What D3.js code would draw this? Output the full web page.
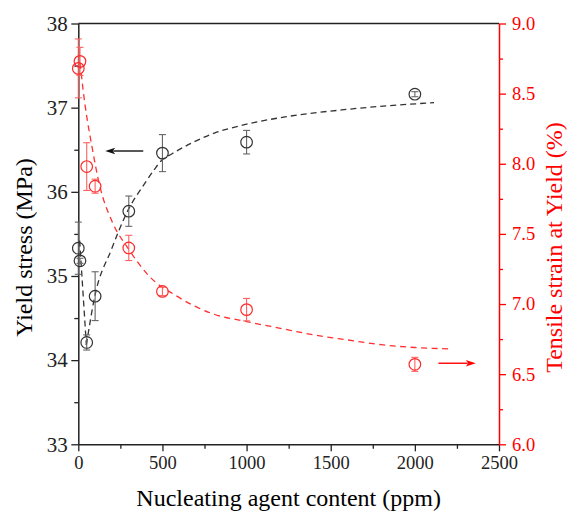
<!DOCTYPE html>
<html>
<head>
<meta charset="utf-8">
<script src="https://cdn.jsdelivr.net/npm/d3@7"></script>
<style>
  html, body { margin: 0; padding: 0; background: #fff; }
  svg { display: block; font-family: "Liberation Serif", "Times New Roman", serif; }
</style>
</head>
<body>
<svg id="chart" width="568" height="513"></svg>
<script>
// ---- data ----
const contents = [0, 10, 50, 100, 300, 500, 1000, 2000];            // ppm
const yieldStress = [35.33, 35.18, 34.21, 34.76, 35.77, 36.46, 36.59, 37.16]; // MPa
const yieldStressErr = [0.31, 0.03, 0.09, 0.29, 0.18, 0.22, 0.14, 0.03];
const strain = [8.68, 8.73, 7.98, 7.84, 7.40, 7.09, 6.96, 6.57];    // %
const strainErr = [0.21, 0.10, 0.17, 0.05, 0.09, 0.03, 0.08, 0.05];

// dashed guide curves
const stressFitDown = [[8, 35.42], [48, 34.18]];
const stressFitUp = [[48, 34.18], [97, 34.75], [196, 35.31], [295, 35.78], [395, 36.10],
  [450, 36.26], [493, 36.37], [555, 36.45], [674, 36.58], [812, 36.70], [971, 36.79],
  [1228, 36.89], [1600, 36.98], [2114, 37.06]];
const strainFit = [[10, 8.72], [40, 8.42], [80, 8.13], [128, 7.84], [200, 7.59], [300, 7.39],
  [420, 7.20], [580, 7.06], [800, 6.93], [1000, 6.875], [1200, 6.827], [1400, 6.78],
  [1600, 6.744], [1800, 6.71], [2000, 6.69], [2220, 6.68]];

const xTicks = [0, 500, 1000, 1500, 2000, 2500];
const xMinorTicks = [250, 750, 1250, 1750, 2250];
const yLeftTicks = [33, 34, 35, 36, 37, 38];
const yLeftMinorTicks = [33.5, 34.5, 35.5, 36.5, 37.5];
const yRightTicks = [6.0, 6.5, 7.0, 7.5, 8.0, 8.5, 9.0];
const yRightMinorTicks = [6.25, 6.75, 7.25, 7.75, 8.25, 8.75];

// arrows: [x1, y1, x2, y2] in data units (x ppm, y on the axis named)
const stressArrow = { axis: "left", from: [386, 36.485], to: [160, 36.485] };
const strainArrow = { axis: "right", from: [2140, 6.578], to: [2362, 6.578] };

const xTitle = "Nucleating agent content (ppm)";
const yLeftTitle = "Yield stress (MPa)";
const yRightTitle = "Tensile strain at Yield (%)";

// ---- drawing ----
const svg = d3.select("#chart");
const L = 78.3, R = 499, T = 23.5, B = 444.3;
const RED = "#ff0000";
const BLK = "#222";

const x = d3.scaleLinear().domain([0, 2500]).range([L, R]);
const yL = d3.scaleLinear().domain([33, 38]).range([B, T]);
const yR = d3.scaleLinear().domain([6, 9]).range([B, T]);

function styleAxis(g, color, size) {
  g.selectAll("path.domain").attr("stroke", color).attr("stroke-width", 1.5);
  g.selectAll(".tick line").attr("stroke", color).attr("stroke-width", 1.3);
  g.selectAll(".tick text").attr("fill", color).style("font-size", size + "px")
    .style("font-family", '"Liberation Serif", serif');
}

// top frame line
svg.append("line").attr("x1", L).attr("x2", R).attr("y1", T).attr("y2", T)
  .attr("stroke", BLK).attr("stroke-width", 1.6);

// bottom axis
const gxMinor = svg.append("g").attr("transform", `translate(0,${B})`)
  .call(d3.axisBottom(x).tickValues(xMinorTicks).tickSize(4.5).tickFormat(""));
gxMinor.select("path.domain").remove();
gxMinor.selectAll(".tick line").attr("stroke", BLK).attr("stroke-width", 1.3);
const gx = svg.append("g").attr("transform", `translate(0,${B})`)
  .call(d3.axisBottom(x).tickValues(xTicks).tickSize(7).tickSizeOuter(0).tickPadding(5).tickFormat(d3.format("d")));
styleAxis(gx, BLK, 18.5);

// left axis
const gyLMinor = svg.append("g").attr("transform", `translate(${L},0)`)
  .call(d3.axisLeft(yL).tickValues(yLeftMinorTicks).tickSize(4).tickFormat(""));
gyLMinor.select("path.domain").remove();
gyLMinor.selectAll(".tick line").attr("stroke", BLK).attr("stroke-width", 1.3);
const gyL = svg.append("g").attr("transform", `translate(${L},0)`)
  .call(d3.axisLeft(yL).tickValues(yLeftTicks).tickSize(7).tickSizeOuter(0).tickPadding(3.5).tickFormat(d3.format("d")));
styleAxis(gyL, BLK, 21);

// right axis
const gyRMinor = svg.append("g").attr("transform", `translate(${R},0)`)
  .call(d3.axisRight(yR).tickValues(yRightMinorTicks).tickSize(4).tickFormat(""));
gyRMinor.select("path.domain").remove();
gyRMinor.selectAll(".tick line").attr("stroke", RED).attr("stroke-width", 1.3);
const gyR = svg.append("g").attr("transform", `translate(${R},0)`)
  .call(d3.axisRight(yR).tickValues(yRightTicks).tickSize(7).tickSizeOuter(0).tickPadding(6).tickFormat(d3.format(".1f")));
styleAxis(gyR, RED, 18.5);

// titles
svg.append("text").attr("x", (L + R) / 2).attr("y", 506).attr("text-anchor", "middle")
  .style("font-size", "24px").attr("fill", "#000").text(xTitle);
svg.append("text").attr("transform", "translate(32,247.5) rotate(-90)").attr("text-anchor", "middle")
  .style("font-size", "24px").attr("fill", "#000").text(yLeftTitle);
svg.append("text").attr("transform", "translate(562,247.5) rotate(-90)").attr("text-anchor", "middle")
  .style("font-size", "24px").attr("fill", RED).text(yRightTitle);

// fitted dashed curves
const lineL = d3.line().x(d => x(d[0])).y(d => yL(d[1])).curve(d3.curveMonotoneX);
const lineR = d3.line().x(d => x(d[0])).y(d => yR(d[1])).curve(d3.curveMonotoneX);
svg.append("path").attr("d", lineL(stressFitDown)).attr("fill", "none")
  .attr("stroke", "#333").attr("stroke-width", 1.3).attr("stroke-dasharray", "6,4");
svg.append("path").attr("d", lineL(stressFitUp)).attr("fill", "none")
  .attr("stroke", "#333").attr("stroke-width", 1.3).attr("stroke-dasharray", "6,4");
svg.append("path").attr("d", lineR(strainFit)).attr("fill", "none")
  .attr("stroke", "#ff3030").attr("stroke-width", 1.3).attr("stroke-dasharray", "6,4.5");

// error bars + points
function drawSeries(vals, errs, yScale, errColor, ptColor) {
  const g = svg.append("g");
  const cap = 3.5;
  contents.forEach((c, i) => {
    const cx = x(c), y1 = yScale(vals[i] + errs[i]), y2 = yScale(vals[i] - errs[i]);
    g.append("line").attr("x1", cx).attr("x2", cx).attr("y1", y1).attr("y2", y2)
      .attr("stroke", errColor).attr("stroke-width", 1.1);
    [y1, y2].forEach(yy => g.append("line").attr("x1", cx - cap).attr("x2", cx + cap)
      .attr("y1", yy).attr("y2", yy).attr("stroke", errColor).attr("stroke-width", 1.1));
  });
  g.selectAll("circle").data(contents).enter().append("circle")
    .attr("cx", d => x(d)).attr("cy", (d, i) => yScale(vals[i])).attr("r", 5.8)
    .attr("fill", "none").attr("stroke", ptColor).attr("stroke-width", 1.2);
}
drawSeries(yieldStress, yieldStressErr, yL, "#666", "#333");
drawSeries(strain, strainErr, yR, "#ff6060", "#ff2a2a");

// arrows
function arrow(a, color) {
  const ys = a.axis === "left" ? yL : yR;
  const x1 = x(a.from[0]), y1 = ys(a.from[1]), x2 = x(a.to[0]), y2 = ys(a.to[1]);
  const dir = Math.sign(x2 - x1);
  const head = 10, hw = 3.2;
  svg.append("line").attr("x1", x1).attr("x2", x2 - dir * head * 0.8).attr("y1", y1).attr("y2", y2)
    .attr("stroke", color).attr("stroke-width", 1.4);
  svg.append("path")
    .attr("d", `M${x2},${y2} L${x2 - dir * head},${y2 - hw} L${x2 - dir * head * 0.75},${y2} L${x2 - dir * head},${y2 + hw} Z`)
    .attr("fill", color);
}
arrow(stressArrow, "#111");
arrow(strainArrow, RED);
</script>
</body>
</html>
